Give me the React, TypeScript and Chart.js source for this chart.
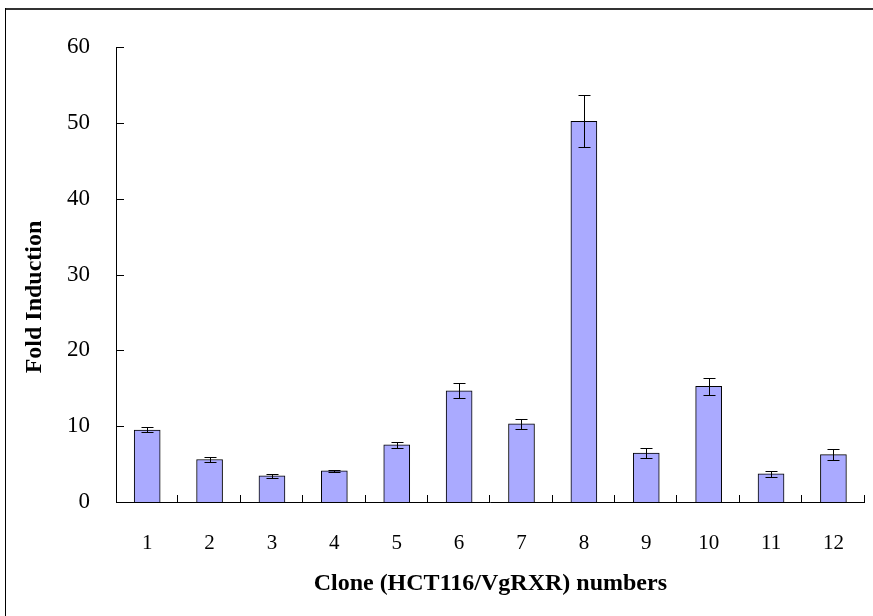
import React, { useEffect, useRef } from "react";
import { Chart, registerables } from "chart.js";

Chart.register(...registerables);

const categories = ["1", "2", "3", "4", "5", "6", "7", "8", "9", "10", "11", "12"];
const foldValues = [9.5, 5.6, 3.45, 4.1, 7.55, 14.65, 10.3, 50.2, 6.45, 15.25, 3.7, 6.25];
const foldErrors = [0.33, 0.38, 0.25, 0.17, 0.4, 1.0, 0.65, 3.45, 0.7, 1.1, 0.4, 0.7];
const yTicks = [0, 10, 20, 30, 40, 50, 60];

const xTitle = "Clone (HCT116/VgRXR) numbers";
const yTitle = "Fold Induction";

const FONT = "'Liberation Serif', 'Times New Roman', serif";

const framePlugin = {
  id: "frame",
  beforeDraw(chart: any) {
    const ctx = chart.ctx;
    ctx.save();
    ctx.fillStyle = "#ffffff";
    ctx.fillRect(0, 0, chart.width, chart.height);
    ctx.fillStyle = "#333333";
    ctx.fillRect(5, 8, chart.width - 5, 2);
    ctx.fillStyle = "#000000";
    ctx.fillRect(5, 8, 1, chart.height - 8);
    ctx.restore();
  },
};

const errorBarPlugin = {
  id: "errorBars",
  afterDatasetsDraw(chart: any) {
    const ctx = chart.ctx;
    const yScale = chart.scales.y;
    const meta = chart.getDatasetMeta(0);
    ctx.save();
    ctx.strokeStyle = "#000000";
    ctx.lineWidth = 1;
    meta.data.forEach((el: any, i: number) => {
      const v = foldValues[i];
      const e = foldErrors[i];
      const x = Math.round(el.x) + 0.5;
      const yt = Math.round(yScale.getPixelForValue(v + e)) + 0.5;
      const yb = Math.round(yScale.getPixelForValue(v - e)) + 0.5;
      ctx.beginPath();
      ctx.moveTo(x, yt);
      ctx.lineTo(x, yb);
      ctx.moveTo(x - 6, yt);
      ctx.lineTo(x + 6, yt);
      ctx.moveTo(x - 6, yb);
      ctx.lineTo(x + 6, yb);
      ctx.stroke();
    });
    ctx.restore();
  },
};

const tickPlugin = {
  id: "inwardTicks",
  afterDraw(chart: any) {
    const ctx = chart.ctx;
    const { left, bottom } = chart.chartArea;
    const xs = chart.scales.x;
    const ys = chart.scales.y;
    ctx.save();
    ctx.strokeStyle = "#000000";
    ctx.lineWidth = 1;
    ctx.beginPath();
    yTicks.forEach((t) => {
      const p = Math.round(ys.getPixelForValue(t)) + 0.5;
      ctx.moveTo(left, p);
      ctx.lineTo(left + 8, p);
    });
    const half = (xs.getPixelForValue(1) - xs.getPixelForValue(0)) / 2;
    categories.forEach((_, i) => {
      const p = Math.round(xs.getPixelForValue(i) + half) - 0.5;
      ctx.moveTo(p, bottom);
      ctx.lineTo(p, bottom - 7);
    });
    ctx.stroke();
    // y axis title
    ctx.fillStyle = "#000000";
    ctx.font = `bold 24px ${FONT}`;
    ctx.textAlign = "center";
    ctx.textBaseline = "middle";
    ctx.translate(35, 297);
    ctx.rotate(-Math.PI / 2);
    ctx.fillText(yTitle, 0, 0);
    ctx.restore();
  },
};

export default function App() {
  const ref = useRef<HTMLCanvasElement>(null);

  useEffect(() => {
    if (!ref.current) return;
    const chart = new Chart(ref.current, {
      type: "bar",
      data: {
        labels: categories,
        datasets: [
          {
            data: foldValues,
            backgroundColor: "#AAAAFF",
            borderColor: "#000000",
            borderWidth: 1,
            barThickness: 26,
          },
        ],
      },
      options: {
        responsive: false,
        animation: false,
        layout: { padding: { left: 0, right: 2, top: 47, bottom: 0 } },
        plugins: {
          legend: { display: false },
          tooltip: { enabled: false },
        },
        scales: {
          x: {
            grid: { display: false, drawTicks: false },
            border: { display: true, color: "#000000", width: 1 },
            ticks: {
              color: "#000000",
              font: { family: FONT, size: 21 },
              padding: 29,
            },
            title: {
              display: true,
              text: xTitle,
              color: "#000000",
              font: { family: FONT, size: 24, weight: "bold" },
              padding: { top: 0, bottom: 18 },
            },
            afterFit: (s: any) => {
              s.height = 114;
            },
          },
          y: {
            min: 0,
            max: 60,
            grid: { display: false, drawTicks: false },
            border: { display: true, color: "#000000", width: 1 },
            ticks: {
              stepSize: 10,
              color: "#000000",
              font: { family: FONT, size: 23 },
              padding: 26,
            },
            afterFit: (s: any) => {
              s.width = 116;
            },
          },
        },
      },
      plugins: [framePlugin, errorBarPlugin, tickPlugin],
    });
    return () => chart.destroy();
  }, []);

  return (
    <div style={{ position: "fixed", left: 0, top: 0, width: 873, height: 616, background: "#fff" }}>
      <canvas ref={ref} width={873} height={616} />
    </div>
  );
}
